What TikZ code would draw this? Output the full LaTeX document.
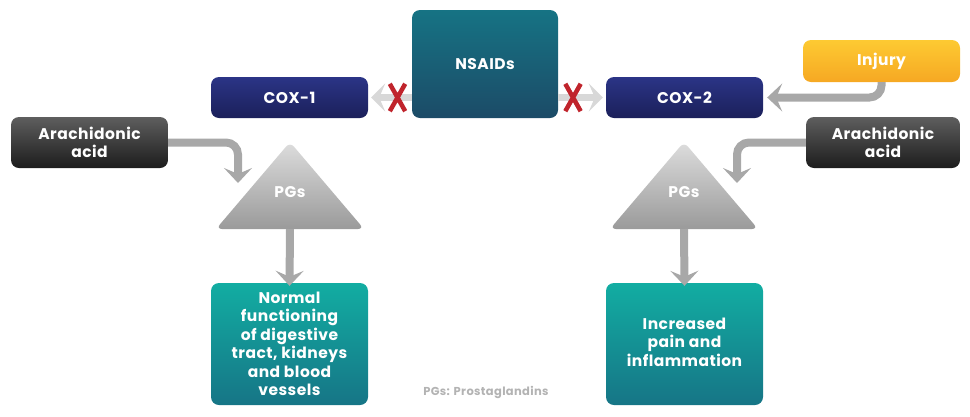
\documentclass[tikz,border=0pt]{standalone}
\usepackage{fontspec}
\setmainfont{Poppins}[LetterSpace=3]
\usetikzlibrary{arrows.meta,calc}
\definecolor{coxtop}{HTML}{2B3486}
\definecolor{coxbot}{HTML}{1B205A}
\definecolor{nstop}{HTML}{167384}
\definecolor{nsbot}{HTML}{1C4B67}
\definecolor{injtop}{HTML}{FDCA32}
\definecolor{injbot}{HTML}{F6A823}
\definecolor{artop}{HTML}{5E5E5E}
\definecolor{arbot}{HTML}{1C1C1C}
\definecolor{tltop}{HTML}{12ADA2}
\definecolor{tlbot}{HTML}{167586}
\definecolor{trtop}{HTML}{DDDDDD}
\definecolor{trbot}{HTML}{9A9A9A}
\definecolor{arrowgray}{HTML}{A8A8A8}
\definecolor{lightarrow}{HTML}{D8D8D8}
\definecolor{xred}{HTML}{C0242C}
\definecolor{legendgray}{HTML}{B3B3B3}
\begin{document}
\begin{tikzpicture}[x=1pt,y=-1pt,
  boxbase/.style={rounded corners=8pt, inner sep=0pt, text=white,
    font=\bfseries\fontsize{15.5}{18.5}\selectfont, align=center},
  coxbox/.style={boxbase, top color=coxtop, bottom color=coxbot, minimum width=157pt, minimum height=41pt},
  arbox/.style={boxbase, top color=artop, bottom color=arbot, minimum height=51pt},
  tealbox/.style={boxbase, top color=tltop, bottom color=tlbot, minimum width=157pt, minimum height=122pt},
  bigarrow/.style={draw=arrowgray, line width=8pt, rounded corners=12pt,
    -{Stealth[length=15pt, width=28pt, inset=6pt]}},
  blockarrow/.style={draw=lightarrow, line width=7pt,
    -{Stealth[length=14pt, width=28pt, inset=6pt]}},
  xmark/.style={draw=xred, line width=4.5pt},
  pglabel/.style={text=white, font=\bfseries\fontsize{15.5}{18.5}\selectfont, inner sep=0pt}
]
\useasboundingbox (0,0) rectangle (970,416);

% nodes
\node[boxbase, top color=nstop, bottom color=nsbot, minimum width=146pt, minimum height=108pt] (nsaid) at (485,64) {NSAIDs};
\node[coxbox] (cox1) at (289.5,97.5) {COX-1};
\node[coxbox] (cox2) at (684.5,97.5) {COX-2};
\node[boxbase, top color=injtop, bottom color=injbot, minimum width=157pt, minimum height=42pt] (injury) at (881.5,61) {Injury};
\node[arbox, minimum width=157pt] (arL) at (89.5,142.5) {Arachidonic\\acid};
\node[arbox, minimum width=154pt] (arR) at (883,142.5) {Arachidonic\\acid};

% triangles
\shade[top color=trtop, bottom color=trbot, rounded corners=6pt] (290,142) -- (364,229) -- (216,229) -- cycle;
\shade[top color=trtop, bottom color=trbot, rounded corners=6pt] (684,142) -- (758,229) -- (610,229) -- cycle;
\node[pglabel] (pgL) at (290,192) {PGs};
\node[pglabel] (pgR) at (684,192) {PGs};
\coordinate (pgLbase) at (290,229);
\coordinate (pgRbase) at (684,229);

\node[tealbox] (outL) at (289.5,344) {Normal\\functioning\\of digestive\\tract, kidneys\\and blood\\vessels};
\node[tealbox] (outR) at (684.5,344) {\raisebox{6pt}{\begin{tabular}{@{}c@{}}Increased\\pain and\\inflammation\end{tabular}}};

% coordinates for arrow tips
\coordinate (tipL) at (238,183);
\coordinate (tipR) at (737,183);

% arrows
\draw[bigarrow] (arL.east) -| (tipL);
\draw[bigarrow] (arR.west) -| (tipR);
\draw[bigarrow] (injury.south) |- ([xshift=4pt]cox2.east);
\draw[bigarrow, rounded corners=0pt] (pgLbase) -- ([yshift=-3pt]outL.north);
\draw[bigarrow, rounded corners=0pt] (pgRbase) -- ([yshift=-3pt]outR.north);

% NSAIDs blocking arrows
\draw[blockarrow] (nsaid.west |- cox1.east) -- ([xshift=3pt]cox1.east);
\draw[blockarrow] (nsaid.east |- cox2.west) -- ([xshift=-3pt]cox2.west);

% red X marks
\node[inner sep=0pt, minimum width=15pt, minimum height=27pt] (xL) at (397.5,97.5) {};
\node[inner sep=0pt, minimum width=15pt, minimum height=27pt] (xR) at (573,97.5) {};
\draw[xmark] (xL.north west) -- (xL.south east) (xL.north east) -- (xL.south west);
\draw[xmark] (xR.north west) -- (xR.south east) (xR.north east) -- (xR.south west);

% legend
\node[text=legendgray, font=\bfseries\fontsize{11.5}{13}\selectfont] (legend) at (486,392) {PGs: Prostaglandins};
\end{tikzpicture}
\end{document}
